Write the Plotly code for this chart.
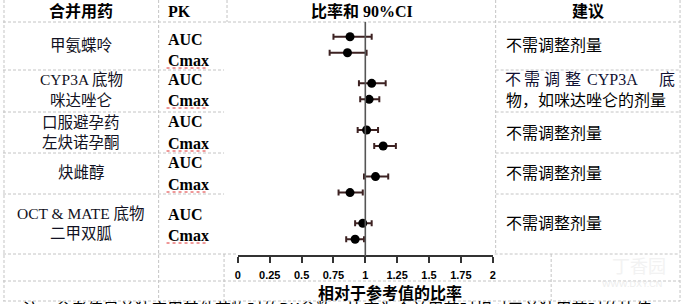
import plotly.graph_objects as go

W, H = 687, 304

# ---------------- data ----------------
drug_lines = [["甲氨蝶呤"], ["CYP3A 底物", "咪达唑仑"], ["口服避孕药", "左炔诺孕酮"],
              ["炔雌醇"], ["OCT & MATE 底物", "二甲双胍"]]
pk_params = ["AUC", "Cmax"]
ratio = [0.88, 0.86, 1.05, 1.03, 1.01, 1.14, 1.08, 0.88, 0.98, 0.92]
ci_low = [0.75, 0.72, 0.95, 0.96, 0.94, 1.07, 0.99, 0.79, 0.92, 0.85]
ci_high = [1.05, 1.01, 1.16, 1.11, 1.10, 1.24, 1.18, 0.98, 1.05, 0.99]
advice = ["不需调整剂量", None, "不需调整剂量", "不需调整剂量", "不需调整剂量"]
tick_vals = [0, 0.25, 0.5, 0.75, 1, 1.25, 1.5, 1.75, 2]
tick_text = ["0", "0.25", "0.5", "0.75", "1", "1.25", "1.5", "1.75", "2"]
headers = ["合并用药", "PK", "比率和 90%CI", "建议"]
x_title = "相对于参考值的比率"
note = "注：参考值是单独应用其他药物时的PK参数，比率为合并用药时相对于单独用药时的比值"

SERIF_CJK = "Liberation Serif, Noto Sans CJK SC"
SANS_CJK = "Noto Sans CJK SC, Liberation Sans"


def px(x):
    return x / W


def py(y):
    return 1 - y / H


# y positions: 5 groups, 2 parameters each
ypos = []
for g in range(5):
    for k in range(2):
        ypos.append(g * 2.915 + k)

fig = go.Figure()
fig.add_trace(go.Scatter(
    x=ratio, y=ypos, mode="markers",
    marker=dict(color="black", size=9, symbol="circle"),
    error_x=dict(type="data", symmetric=False,
                 array=[h - r for h, r in zip(ci_high, ratio)],
                 arrayminus=[r - l for r, l in zip(ratio, ci_low)],
                 color="#3d2222", thickness=2, width=3),
    showlegend=False, hoverinfo="skip"))

y_top_v = -36.7 / 16
y_bot_v = (H - 36.7) / 16

shapes = []
# reference line at 1
shapes.append(dict(type="line", xref="x", yref="paper", x0=1, x1=1,
                   y0=py(256), y1=py(22), line=dict(color="#555555", width=1.6)))

grid = dict(color="#c4c4c4", width=1, dash="3px,2px")


def hline(y, x0, x1):
    shapes.append(dict(type="line", xref="paper", yref="paper", x0=px(x0), x1=px(x1),
                       y0=py(y), y1=py(y), line=grid, layer="below"))


def vline(x, y0, y1):
    shapes.append(dict(type="line", xref="paper", yref="paper", x0=px(x), x1=px(x),
                       y0=py(y0), y1=py(y1), line=grid, layer="below"))


hline(22, 0, 683)
for yy in [70, 112, 153, 194]:
    hline(yy, 0, 223)
    hline(yy, 497, 683)
hline(254, 0, 236)
hline(254, 496, 683)
hline(281, 0, 683)
hline(301, 0, 683)
vline(1, 0, 301)
vline(157, 0, 301)
vline(226, 0, 22)
vline(223, 254, 301)
vline(497, 0, 254)
vline(553, 254, 301)
vline(683, 0, 301)

annotations = []


def txt(x, y, s, size=16, family=SERIF_CJK, anchor="center", color="black", bold=False):
    annotations.append(dict(x=px(x), y=py(y), xref="paper", yref="paper",
                            text=("<b>%s</b>" % s) if bold else s, showarrow=False,
                            xanchor=anchor, yanchor="middle", borderpad=0,
                            font=dict(size=size, family=family, color=color)))


# headers
txt(79, 11, headers[0], bold=True)
txt(165, 11, headers[1], anchor="left", bold=True)
txt(362, 11, headers[2], bold=True)
txt(590, 11, headers[3], bold=True)

# drug names
drug_y = [[45], [80, 100], [122, 142], [172], [213, 233]]
for lines, ys in zip(drug_lines, drug_y):
    for s, yy in zip(lines, ys):
        txt(79, yy, s, size=15.5, color="#111122")

# PK params
pk_y = [(40, 60), (80, 100), (121, 143), (162, 184), (214, 235)]
for ya, yc in pk_y:
    txt(165, ya, pk_params[0], anchor="left", bold=True)
    txt(165, yc, pk_params[1], anchor="left", bold=True)
    shapes.append(dict(type="line", xref="paper", yref="paper", x0=px(165), x1=px(206),
                       y0=py(yc + 8), y1=py(yc + 8),
                       line=dict(color="#e03030", width=1, dash="dot")))

# advice
adv_y = [46, None, 133, 173, 223]
for s, yy in zip(advice, adv_y):
    if s:
        txt(506, yy, s, anchor="left")
# justified line for CYP3A advice
for s, xx in zip(["不", "需", "调", "整", "CYP3A", "底"], [514, 534, 554, 575, 615, 670]):
    txt(xx, 80, s, color="#111133")
txt(506, 100, "物，如咪达唑仑的剂量", anchor="left")

# axis title
txt(390, 292, x_title, size=16, family=SANS_CJK, bold=True)

# watermark
txt(642, 265, "丁香园", size=18, family=SANS_CJK, color="#f2f2f2")
txt(635, 284, "WWW.DXY.CN", size=9, family="Liberation Sans", color="#ededed")

# bottom note (cut off at the bottom edge)
annotations.append(dict(x=px(18), y=py(294), xref="paper", yref="paper", text=note,
                        showarrow=False, xanchor="left", yanchor="top",
                        font=dict(size=16, family=SANS_CJK, color="black")))

fig.update_layout(
    width=W, height=H, margin=dict(l=0, r=0, t=0, b=0),
    paper_bgcolor="white", plot_bgcolor="rgba(0,0,0,0)",
    shapes=shapes, annotations=annotations,
    xaxis=dict(domain=[237 / W, 494 / W], range=[0, 2], anchor="free", position=py(256),
               showline=True, linecolor="#333333", linewidth=1.5,
               ticks="outside", ticklen=6, tickcolor="#333333", tickwidth=1.5,
               tickvals=tick_vals, ticktext=tick_text, ticklabelstandoff=3,
               tickfont=dict(family="Liberation Sans", size=11, color="black", weight="bold"),
               showgrid=False, zeroline=False, fixedrange=True),
    yaxis=dict(domain=[0, 1], range=[y_bot_v, y_top_v], visible=False,
               showgrid=False, zeroline=False, fixedrange=True),
)

fig.write_html("out.html")
